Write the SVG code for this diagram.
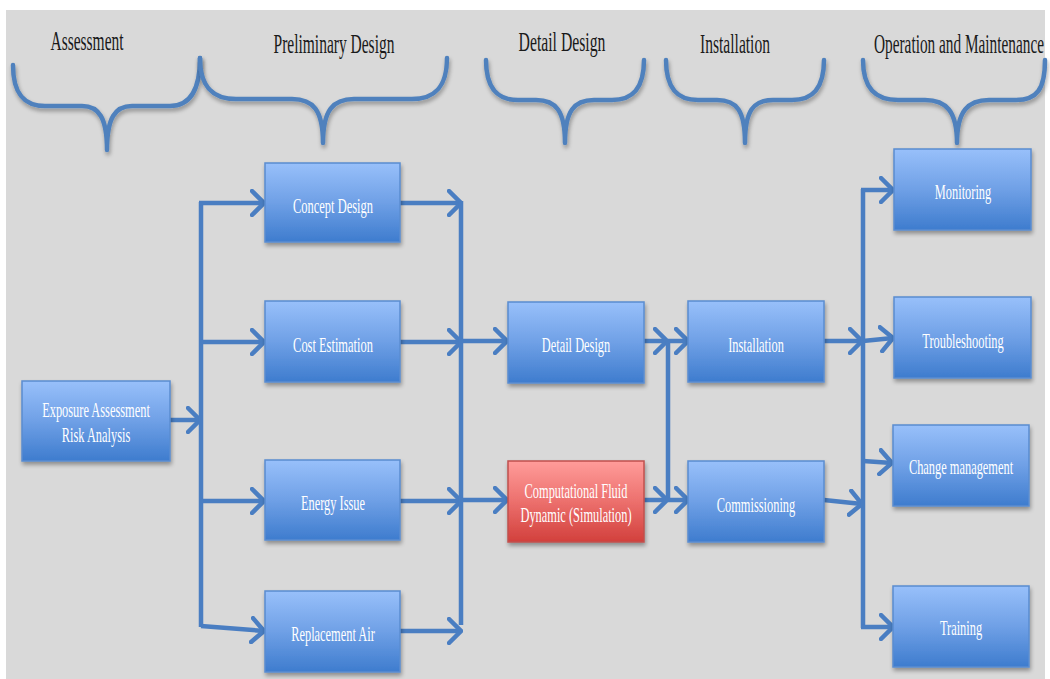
<svg xmlns="http://www.w3.org/2000/svg" width="1050" height="679" viewBox="0 0 1050 679">
<defs>
<linearGradient id="gb" x1="0" y1="0" x2="0" y2="1">
<stop offset="0" stop-color="#98c0fa"/><stop offset="0.5" stop-color="#6fa0e6"/><stop offset="1" stop-color="#3e7cce"/>
</linearGradient>
<linearGradient id="gr" x1="0" y1="0" x2="0" y2="1">
<stop offset="0" stop-color="#ff9c9a"/><stop offset="0.5" stop-color="#ec706d"/><stop offset="1" stop-color="#d2403c"/>
</linearGradient>
<filter id="sh" x="-10%" y="-10%" width="130%" height="140%">
<feGaussianBlur in="SourceAlpha" stdDeviation="2"/>
<feOffset dx="1" dy="3" result="o"/>
<feComponentTransfer><feFuncA type="linear" slope="0.35"/></feComponentTransfer>
<feMerge><feMergeNode/><feMergeNode in="SourceGraphic"/></feMerge>
</filter>
<marker id="ah" viewBox="0 0 16 28" refX="14" refY="14" markerWidth="16" markerHeight="28" markerUnits="userSpaceOnUse" orient="auto">
<path d="M2,2 L14,14 L2,26" fill="none" stroke="#4a7ec2" stroke-width="4.5" stroke-linecap="round" stroke-linejoin="miter"/>
</marker>
</defs>
<style>
.box{fill:url(#gb);stroke:#5a8cd0;stroke-width:1.5;filter:url(#sh)}
.red{fill:url(#gr);stroke:#c0504d;stroke-width:1.5;filter:url(#sh)}
.t{font-family:"Liberation Serif","Times New Roman",serif;font-size:21px;fill:#ffffff;text-anchor:middle}
.h{font-family:"Liberation Serif","Times New Roman",serif;font-size:27px;fill:#1a1a1a;text-anchor:middle}
.br{fill:none;stroke:#4f81bd;stroke-width:4.5;stroke-linecap:round;stroke-linejoin:round;filter:url(#sh)}
.c{fill:none;stroke:#4a7ec2;stroke-width:4.5;stroke-linecap:butt;stroke-linejoin:round}
.a{marker-end:url(#ah)}
</style>
<rect x="0" y="0" width="1050" height="679" fill="#ffffff"/>
<rect x="6" y="10" width="1039" height="669" fill="#d9d9d9"/>

<g id="headers">
<text class="h" transform="translate(87,50) scale(0.573,1)">Assessment</text>
<text class="h" transform="translate(334,53) scale(0.574,1)">Preliminary Design</text>
<text class="h" transform="translate(562,51) scale(0.583,1)">Detail Design</text>
<text class="h" transform="translate(735,53) scale(0.576,1)">Installation</text>
<text class="h" transform="translate(959,53) scale(0.567,1)">Operation and Maintenance</text>
</g>

<g id="braces">
<path class="br" d="M13,65 C13,95 25,106 45,106 L82,106 C99,106 107,118 107,150 C107,118 115,106 132,106 L170,106 C190,106 200,90 200,58"/>
<path class="br" d="M200,58 C200,88 214,99 236,99 L292,99 C313,99 323,110 323,143 C323,110 333,99 354,99 L412,99 C434,99 447,88 447,58"/>
<path class="br" d="M486,60 C486,89 498,100 518,100 L536,100 C556,100 565,111 565,143 C565,111 574,100 594,100 L612,100 C632,100 644,89 644,60"/>
<path class="br" d="M666,60 C666,89 678,100 698,100 L717,100 C737,100 745,111 745,143 C745,111 753,100 773,100 L792,100 C812,100 824,89 824,60"/>
<path class="br" d="M863,60 C863,89 876,100 898,100 L925,100 C946,100 957,111 957,143 C957,111 968,100 989,100 L1016,100 C1037,100 1045,89 1045,60"/>
</g>

<g id="connectors">
<line class="c a" x1="170" y1="420" x2="200" y2="420"/>
<line class="c" x1="201" y1="202" x2="201" y2="627"/>
<polyline class="c a" points="199,203 264,203"/>
<line class="c a" x1="201" y1="342" x2="264" y2="342"/>
<line class="c a" x1="201" y1="501" x2="264" y2="501"/>
<line class="c a" x1="201" y1="626" x2="264" y2="631"/>
<line class="c a" x1="400" y1="203" x2="461" y2="203"/>
<line class="c a" x1="400" y1="342" x2="461" y2="342"/>
<line class="c a" x1="400" y1="501" x2="461" y2="501"/>
<line class="c a" x1="400" y1="631" x2="461" y2="631"/>
<line class="c" x1="461" y1="201" x2="461" y2="625"/>
<line class="c a" x1="461" y1="341" x2="507" y2="341"/>
<line class="c a" x1="461" y1="500" x2="507" y2="500"/>
<line class="c a" x1="644" y1="341" x2="667" y2="341"/>
<line class="c a" x1="644" y1="500" x2="667" y2="500"/>
<line class="c" x1="668" y1="341" x2="668" y2="500"/>
<line class="c a" x1="668" y1="341" x2="688" y2="341"/>
<line class="c a" x1="668" y1="500" x2="688" y2="500"/>
<line class="c a" x1="824" y1="341" x2="862" y2="341"/>
<line class="c a" x1="824" y1="500" x2="862" y2="504"/>
<line class="c" x1="863" y1="189" x2="863" y2="628"/>
<line class="c a" x1="861" y1="190" x2="893" y2="190"/>
<line class="c a" x1="863" y1="341" x2="893" y2="338"/>
<line class="c a" x1="863" y1="461" x2="892" y2="463"/>
<line class="c a" x1="861" y1="627" x2="893" y2="627"/>
</g>

<g id="n-exposure"><rect class="box" x="22" y="381" width="148" height="80"/>
<text class="t" transform="translate(96,417) scale(0.59,1)">Exposure Assessment</text>
<text class="t" transform="translate(96,442) scale(0.59,1)">Risk Analysis</text></g>

<g id="n-concept"><rect class="box" x="265" y="163" width="135" height="79"/>
<text class="t" transform="translate(333,213) scale(0.594,1)">Concept Design</text></g>
<g id="n-cost"><rect class="box" x="265" y="301" width="135" height="81"/>
<text class="t" transform="translate(333,352) scale(0.593,1)">Cost Estimation</text></g>
<g id="n-energy"><rect class="box" x="265" y="460" width="135" height="80"/>
<text class="t" transform="translate(333,510) scale(0.59,1)">Energy Issue</text></g>
<g id="n-replacement"><rect class="box" x="265" y="591" width="135" height="81"/>
<text class="t" transform="translate(333,641) scale(0.59,1)">Replacement Air</text></g>

<g id="n-detail"><rect class="box" x="508" y="302" width="136" height="81"/>
<text class="t" transform="translate(576,352) scale(0.59,1)">Detail Design</text></g>
<g id="n-cfd"><rect class="red" x="508" y="461" width="136" height="81"/>
<text class="t" transform="translate(576,498) scale(0.59,1)">Computational Fluid</text>
<text class="t" transform="translate(576,522) scale(0.59,1)">Dynamic (Simulation)</text></g>

<g id="n-installation"><rect class="box" x="688" y="301" width="136" height="81"/>
<text class="t" transform="translate(756,352) scale(0.59,1)">Installation</text></g>
<g id="n-commissioning"><rect class="box" x="688" y="461" width="136" height="81"/>
<text class="t" transform="translate(756,512) scale(0.59,1)">Commissioning</text></g>

<g id="n-monitoring"><rect class="box" x="894" y="149" width="137" height="81"/>
<text class="t" transform="translate(963,199) scale(0.59,1)">Monitoring</text></g>
<g id="n-troubleshooting"><rect class="box" x="894" y="297" width="137" height="81"/>
<text class="t" transform="translate(963,348) scale(0.59,1)">Troubleshooting</text></g>
<g id="n-change"><rect class="box" x="893" y="425" width="136" height="81"/>
<text class="t" transform="translate(961,474) scale(0.59,1)">Change management</text></g>
<g id="n-training"><rect class="box" x="893" y="586" width="136" height="81"/>
<text class="t" transform="translate(961,635) scale(0.59,1)">Training</text></g>
</svg>
